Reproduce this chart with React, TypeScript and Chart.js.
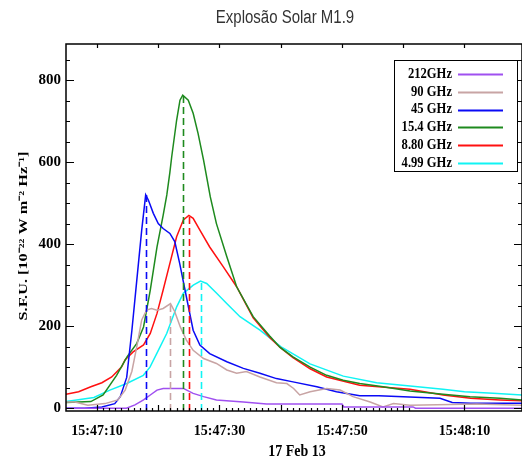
import { useEffect, useRef } from "react";
import { Chart, registerables } from "chart.js";

Chart.register(...registerables);

const TITLE = "Explosão Solar M1.9";
const DATE_LABEL = "17 Feb 13";
const Y_LABEL = "S.F.U. [10⁻²² W m⁻² Hz⁻¹]";

// time axis: seconds after 15:47:00 UT
const timeMin = 4.94;
const timeMax = 79.39;
const timeTicks = [10, 30, 50, 70];
const fluxMin = -7;
const fluxMax = 888;
const fluxTicks = [0, 200, 400, 600, 800];

const bands = ["212GHz", "90 GHz", "45 GHz", "15.4 GHz", "8.80 GHz", "4.99 GHz"];
const bandColors = ["#a050f0", "#c8a4a4", "#0a0af5", "#1e8a1e", "#ff1010", "#10f4f4"];

// 212 GHz
const t212 = [4.94, 14.8, 16.2, 17.6, 18.7, 19.8, 20.8, 24.1, 25.7, 27.4, 29.5, 33.9, 37.7, 50.0, 50.3, 61.6, 62.0, 79.4];
const f212 = [0, 0, 8, 20, 32, 44, 48, 48, 36, 28, 20, 15, 10, 10, 3, 3, 0, 0];

// 90 GHz
const t90 = [4.94, 6.4, 8.5, 11.3, 13.4, 14.6, 15.7, 16.5, 17.3, 18.1, 18.9, 19.8, 20.8, 22.0, 22.7, 23.6, 24.6, 25.7, 27.4, 29.5, 31.2, 32.8, 34.4, 36.6, 39.3, 41.0, 42.1, 43.1, 44.8, 47.5, 49.7, 51.8, 54.6, 56.7, 58.4, 61.1, 72.0, 79.4];
const f90 = [15, 15, 7, 11, 20, 44, 90, 150, 215, 239, 243, 239, 243, 255, 235, 198, 166, 141, 121, 109, 93, 85, 89, 76, 62, 60, 48, 32, 40, 48, 44, 28, 15, 3, 11, 7, 10, 7];

// 45 GHz
const t45 = [4.94, 8.0, 10.8, 12.9, 13.8, 14.3, 14.85, 15.7, 16.5, 17.3, 17.95, 18.4, 19.2, 20.0, 20.8, 21.9, 22.7, 23.5, 24.6, 25.7, 26.8, 28.4, 31.2, 33.9, 36.6, 39.3, 42.0, 45.9, 49.1, 52.9, 56.0, 60.0, 66.0, 68.0, 71.0, 79.4];
const f45 = [0, 0, 3, 11, 28, 50, 75, 190, 312, 434, 520, 507, 475, 450, 438, 426, 406, 353, 271, 190, 154, 133, 113, 97, 85, 72, 64, 52, 40, 30, 30, 28, 24, 14, 12, 12];

// 15.4 GHz
const t15 = [4.94, 9.0, 11.0, 13.2, 14.9, 16.5, 17.6, 18.7, 19.8, 20.8, 21.4, 21.9, 22.2, 23.0, 23.55, 24.0, 24.9, 25.7, 26.5, 27.4, 28.0, 28.5, 29.5, 31.2, 32.8, 35.5, 38.2, 39.9, 42.0, 44.8, 47.5, 50.2, 52.9, 56.7, 61.1, 66.5, 70.9, 75.8, 79.4];
const f15 = [14, 16, 32, 80, 125, 158, 198, 288, 393, 470, 520, 575, 613, 702, 751, 763, 751, 719, 670, 605, 556, 515, 450, 369, 296, 223, 176, 148, 125, 100, 80, 68, 60, 52, 42, 34, 28, 24, 20];

// 8.80 GHz
const t88 = [4.94, 7.0, 9.0, 10.8, 12.4, 14.0, 14.6, 15.9, 17.6, 18.7, 19.8, 20.8, 21.9, 23.0, 24.1, 25.0, 25.7, 26.8, 28.4, 30.6, 32.8, 35.5, 38.2, 39.9, 42.0, 44.8, 47.5, 52.9, 61.1, 66.5, 71.0, 75.8, 79.4];
const f88 = [34, 40, 52, 62, 76, 100, 118, 137, 154, 182, 231, 288, 353, 418, 459, 470, 463, 434, 393, 345, 296, 220, 172, 148, 123, 96, 76, 56, 46, 32, 24, 20, 18];

// 4.99 GHz
const t499 = [4.94, 9.5, 12.1, 14.85, 17.56, 18.65, 19.75, 21.38, 23.01, 24.09, 25.72, 26.9, 27.91, 29.54, 31.18, 33.35, 36.61, 39.34, 40.0, 44.78, 50.21, 55.66, 61.1, 66.5, 70.0, 74.65, 79.4];
const f499 = [16, 26, 44, 60, 80, 100, 133, 182, 247, 280, 300, 310, 304, 280, 255, 223, 190, 158, 150, 108, 78, 62, 54, 46, 40, 36, 32];

// peak markers (dashed verticals): band index, time, flux
const peakBand = [2, 1, 3, 4, 5];
const peakTime = [17.95, 22.0, 24.0, 25.0, 26.9];
const peakFlux = [520, 255, 763, 470, 310];

const seriesTimes = [t212, t90, t45, t15, t88, t499];
const seriesFlux = [f212, f90, f45, f15, f88, f499];

const SERIF = "'Liberation Serif', 'Times New Roman', serif";
const SANS = "'Liberation Sans', Arial, sans-serif";

function formatTime(s: number): string {
  const total = 47 * 60 + s;
  const m = Math.floor(total / 60);
  const sec = Math.round(total - m * 60);
  return `15:${m}:${String(sec).padStart(2, "0")}`;
}

// draws text stretched by sx/sy around its anchor
function stretchedText(
  ctx: CanvasRenderingContext2D,
  text: string,
  x: number,
  y: number,
  sx: number,
  sy: number,
  rotate = 0
) {
  ctx.save();
  ctx.translate(x, y);
  if (rotate) ctx.rotate(rotate);
  ctx.scale(sx, sy);
  ctx.fillText(text, 0, 0);
  ctx.restore();
}

const framePlugin = {
  id: "flareFrame",
  afterDatasetsDraw(chart: any) {
    const { ctx, chartArea: a, scales } = chart;
    const x = scales.x;
    const y = scales.y;
    ctx.save();
    ctx.beginPath();
    ctx.rect(a.left, a.top, a.right - a.left, a.bottom - a.top);
    ctx.clip();
    ctx.setLineDash([7, 4]);
    ctx.lineWidth = 1.6;
    peakTime.forEach((t, i) => {
      const px = Math.round(x.getPixelForValue(t)) + 0.5;
      ctx.strokeStyle = bandColors[peakBand[i]];
      ctx.beginPath();
      ctx.moveTo(px, a.bottom);
      ctx.lineTo(px, y.getPixelForValue(peakFlux[i]));
      ctx.stroke();
    });
    ctx.restore();
  },
  afterDraw(chart: any) {
    const { ctx, chartArea: a, scales } = chart;
    const x = scales.x;
    const y = scales.y;
    ctx.save();

    // plot frame
    ctx.strokeStyle = "#000";
    ctx.lineWidth = 1.5;
    ctx.strokeRect(a.left, a.top, a.right - a.left, a.bottom - a.top);

    // flux ticks on left and right edges
    ctx.lineWidth = 1.2;
    ctx.beginPath();
    for (let v = 0; v <= 850; v += 50) {
      const py = Math.round(y.getPixelForValue(v)) + 0.5;
      const len = v % 200 === 0 ? 8 : 4;
      ctx.moveTo(a.left, py);
      ctx.lineTo(a.left + len, py);
      ctx.moveTo(a.right, py);
      ctx.lineTo(a.right - len, py);
    }
    // time ticks on top and bottom edges
    for (let s = 10; s <= 70; s += 10) {
      const px = Math.round(x.getPixelForValue(s)) + 0.5;
      ctx.moveTo(px, a.top);
      ctx.lineTo(px, a.top + 4);
      ctx.moveTo(px, a.bottom);
      ctx.lineTo(px, a.bottom - 6);
    }
    for (let s = 11; s <= 61; s += 1) {
      const px = Math.round(x.getPixelForValue(s)) + 0.5;
      ctx.moveTo(px, a.bottom);
      ctx.lineTo(px, a.bottom - 3);
    }
    ctx.stroke();

    // legend box
    const lx = 394.5;
    const ly = 60.5;
    const lw = 123;
    const lh = 111;
    ctx.fillStyle = "#fff";
    ctx.fillRect(lx, ly, lw, lh);
    ctx.lineWidth = 1;
    ctx.strokeStyle = "#000";
    ctx.strokeRect(lx, ly, lw, lh);
    ctx.font = `bold 12px ${SERIF}`;
    ctx.textAlign = "right";
    ctx.textBaseline = "middle";
    bands.forEach((b, i) => {
      const ry = 74 + i * 17.8;
      ctx.fillStyle = "#000";
      stretchedText(ctx, b, 452, ry, 1.05, 1.25);
      ctx.strokeStyle = bandColors[i];
      ctx.lineWidth = 2;
      ctx.beginPath();
      ctx.moveTo(458, Math.round(ry) + 0.5);
      ctx.lineTo(503, Math.round(ry) + 0.5);
      ctx.stroke();
    });

    // titles
    ctx.textAlign = "center";
    ctx.textBaseline = "middle";
    ctx.fillStyle = "#333";
    ctx.font = `15px ${SANS}`;
    stretchedText(ctx, TITLE, 285, 18, 1, 1.2);

    ctx.fillStyle = "#000";
    ctx.font = `bold 14px ${SERIF}`;
    stretchedText(ctx, DATE_LABEL, 297, 452, 1, 1.2);

    ctx.font = `bold 13px ${SERIF}`;
    stretchedText(ctx, Y_LABEL, 24, 236, 1.25, 1, -Math.PI / 2);

    ctx.restore();
  },
};

export default function App() {
  const canvasRef = useRef<HTMLCanvasElement | null>(null);

  useEffect(() => {
    const canvas = canvasRef.current;
    if (!canvas) return;

    const datasets = bands.map((label, i) => ({
      label,
      data: seriesTimes[i].map((t, k) => ({ x: t, y: seriesFlux[i][k] })),
      borderColor: bandColors[i],
      backgroundColor: bandColors[i],
      borderWidth: 1.5,
      pointRadius: 0,
      tension: 0,
      fill: false,
    }));

    const tickFont = { family: SERIF, weight: "bold" as const, size: 14 };

    const chart = new Chart(canvas, {
      type: "line",
      data: { datasets },
      options: {
        responsive: false,
        animation: false,
        devicePixelRatio: 1,
        layout: { padding: { top: 44, left: 0, right: 0, bottom: 0 } },
        plugins: {
          legend: { display: false },
          tooltip: { enabled: false },
          title: { display: false },
        },
        scales: {
          x: {
            type: "linear",
            min: timeMin,
            max: timeMax,
            grid: { display: false, drawTicks: false },
            border: { display: false },
            afterBuildTicks: (scale: any) => {
              scale.ticks = timeTicks.map((v) => ({ value: v }));
            },
            afterFit: (scale: any) => {
              scale.height = 54;
            },
            ticks: {
              padding: 12,
              maxRotation: 0,
              autoSkip: false,
              color: "#000",
              font: tickFont,
              callback: (v: any) => formatTime(Number(v)),
            },
          },
          y: {
            type: "linear",
            min: fluxMin,
            max: fluxMax,
            grid: { display: false, drawTicks: false },
            border: { display: false },
            afterBuildTicks: (scale: any) => {
              scale.ticks = fluxTicks.map((v) => ({ value: v }));
            },
            afterFit: (scale: any) => {
              scale.width = 66;
            },
            ticks: {
              padding: 5,
              color: "#000",
              font: { family: SERIF, weight: "bold" as const, size: 15 },
              callback: (v: any) => String(v),
            },
          },
        },
      },
      plugins: [framePlugin],
    });

    return () => chart.destroy();
  }, []);

  return (
    <div style={{ position: "fixed", left: 0, top: 0, width: 522, height: 465, background: "#fff" }}>
      <canvas ref={canvasRef} width={522} height={465} style={{ display: "block" }} />
    </div>
  );
}
